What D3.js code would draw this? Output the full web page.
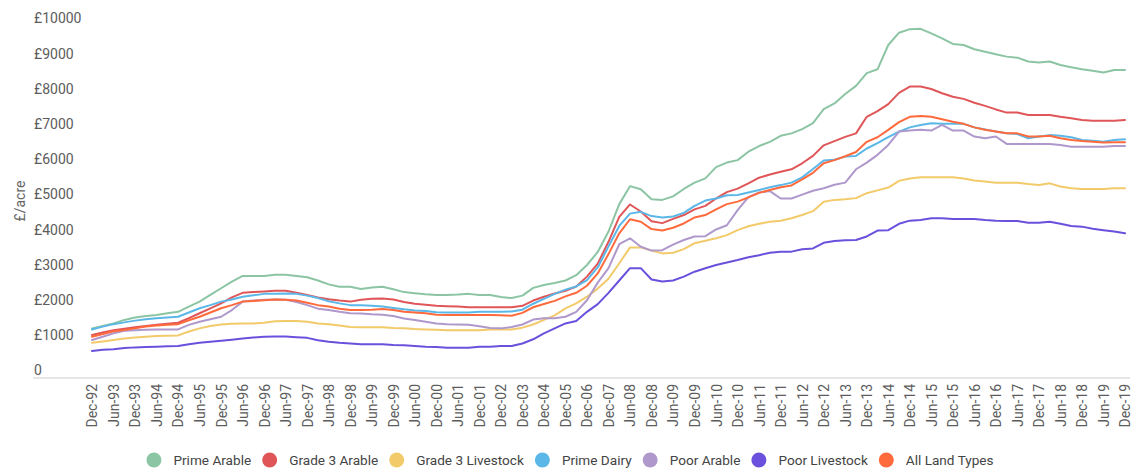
<!DOCTYPE html>
<html>
<head>
<meta charset="utf-8">
<script src="https://cdn.jsdelivr.net/npm/d3@7"></script>
<style>
  html, body { margin: 0; padding: 0; background: #fff; }
  svg { display: block; font-family: Roboto, "Noto Sans", sans-serif; }
</style>
</head>
<body>
<svg id="chart" width="1140" height="471"></svg>
<script>
// Quarterly survey points (half-yearly 2002-2007)
const categories = [
  "Dec-92","Mar-93","Jun-93","Sep-93","Dec-93","Mar-94","Jun-94","Sep-94","Dec-94","Mar-95",
  "Jun-95","Sep-95","Dec-95","Mar-96","Jun-96","Sep-96","Dec-96","Mar-97","Jun-97","Sep-97",
  "Dec-97","Mar-98","Jun-98","Sep-98","Dec-98","Mar-99","Jun-99","Sep-99","Dec-99","Mar-00",
  "Jun-00","Sep-00","Dec-00","Mar-01","Jun-01","Sep-01","Dec-01","Jun-02","Dec-02","Jun-03",
  "Dec-03","Jun-04","Dec-04","Jun-05","Dec-05","Jun-06","Dec-06","Jun-07","Dec-07","Mar-08",
  "Jun-08","Sep-08","Dec-08","Mar-09","Jun-09","Sep-09","Dec-09","Mar-10","Jun-10","Sep-10",
  "Dec-10","Mar-11","Jun-11","Sep-11","Dec-11","Mar-12","Jun-12","Sep-12","Dec-12","Mar-13",
  "Jun-13","Sep-13","Dec-13","Mar-14","Jun-14","Sep-14","Dec-14","Mar-15","Jun-15","Sep-15",
  "Dec-15","Mar-16","Jun-16","Sep-16","Dec-16","Mar-17","Jun-17","Sep-17","Dec-17","Mar-18",
  "Jun-18","Sep-18","Dec-18","Mar-19","Jun-19","Sep-19","Dec-19"
];

// Labels printed along the x axis
const tickLabels = [
  "Dec-92","Jun-93","Dec-93","Jun-94","Dec-94","Jun-95","Dec-95","Jun-96","Dec-96","Jun-97",
  "Dec-97","Jun-98","Dec-98","Jun-99","Dec-99","Jun-00","Dec-00","Jun-01","Dec-01","Dec-02",
  "Dec-03","Dec-04","Dec-05","Dec-06","Dec-07","Jun-08","Dec-08","Jun-09","Dec-09","Jun-10",
  "Dec-10","Jun-11","Dec-11","Jun-12","Dec-12","Jun-13","Dec-13","Jun-14","Dec-14","Jun-15",
  "Dec-15","Jun-16","Dec-16","Jun-17","Dec-17","Jun-18","Dec-18","Jun-19","Dec-19"
];

const yTicks = [0,1000,2000,3000,4000,5000,6000,7000,8000,9000,10000];
const yTickLabels = ["0","£1000","£2000","£3000","£4000","£5000","£6000","£7000","£8000","£9000","£10000"];

// £ per acre
const primeArable = [
  1410,1480,1550,1650,1720,1760,1790,1840,1880,2030,
  2170,2360,2550,2740,2900,2900,2900,2930,2930,2900,
  2860,2770,2660,2590,2590,2530,2570,2590,2520,2440,
  2410,2380,2360,2360,2370,2390,2360,2360,2300,2270,
  2340,2560,2640,2700,2770,2920,3210,3580,4160,4940,
  5450,5360,5080,5060,5160,5370,5550,5670,5990,6120,
  6190,6430,6590,6710,6880,6950,7070,7240,7640,7800,
  8070,8300,8660,8770,9460,9810,9910,9920,9790,9650,
  9490,9460,9340,9270,9200,9130,9100,8990,8960,8990,
  8890,8830,8770,8730,8680,8750,8750
];
const grade3Arable = [
  1220,1290,1360,1400,1440,1480,1510,1540,1570,1700,
  1840,1980,2120,2290,2420,2440,2460,2480,2480,2420,
  2360,2290,2240,2200,2170,2220,2250,2260,2230,2160,
  2110,2080,2050,2040,2030,2010,2010,2010,2010,2010,
  2050,2200,2310,2400,2480,2600,2880,3250,3870,4580,
  4930,4730,4450,4400,4520,4630,4790,4890,5100,5280,
  5380,5530,5690,5780,5860,5930,6100,6310,6610,6730,
  6850,6950,7420,7580,7780,8100,8280,8280,8210,8090,
  7990,7930,7820,7730,7630,7540,7540,7470,7470,7470,
  7420,7380,7330,7310,7310,7310,7330
];
const grade3Livestock = [
  1000,1040,1080,1120,1150,1170,1190,1200,1210,1320,
  1410,1480,1520,1540,1550,1550,1570,1610,1620,1620,
  1600,1550,1530,1490,1450,1440,1440,1440,1420,1410,
  1390,1380,1370,1360,1360,1360,1360,1380,1380,1380,
  1430,1520,1650,1780,1980,2120,2310,2540,2820,3260,
  3710,3710,3620,3540,3560,3660,3830,3900,3970,4060,
  4200,4310,4380,4440,4470,4540,4630,4740,5010,5060,
  5080,5110,5250,5330,5410,5600,5670,5700,5700,5700,
  5700,5670,5610,5580,5550,5550,5550,5510,5480,5530,
  5440,5390,5370,5370,5370,5390,5390
];
const primeDairy = [
  1380,1460,1530,1580,1630,1670,1700,1720,1740,1860,
  1980,2070,2170,2230,2310,2350,2390,2390,2400,2390,
  2340,2270,2180,2120,2070,2070,2050,2030,1990,1950,
  1920,1900,1870,1860,1860,1860,1880,1880,1880,1890,
  1940,2110,2250,2390,2510,2600,2780,3140,3740,4320,
  4670,4720,4600,4560,4590,4690,4890,5040,5100,5190,
  5200,5270,5340,5420,5480,5550,5700,5940,6180,6200,
  6290,6310,6520,6670,6840,7000,7120,7190,7240,7220,
  7220,7220,7120,7060,7000,6950,6930,6810,6860,6900,
  6880,6840,6760,6740,6710,6760,6780
];
const poorArable = [
  1080,1170,1270,1340,1360,1370,1380,1380,1380,1510,
  1600,1670,1740,1930,2170,2200,2220,2230,2220,2160,
  2070,1970,1930,1880,1840,1830,1810,1800,1760,1690,
  1650,1600,1550,1530,1520,1510,1470,1420,1410,1450,
  1520,1660,1700,1700,1740,1880,2210,2710,3120,3800,
  3970,3730,3620,3630,3790,3920,4020,4030,4220,4340,
  4770,5140,5270,5310,5100,5100,5210,5320,5390,5490,
  5550,5930,6120,6340,6620,7000,7030,7050,7030,7190,
  7030,7030,6860,6810,6860,6650,6650,6650,6650,6650,
  6620,6570,6570,6570,6570,6590,6590
];
const poorLivestock = [
  770,800,820,850,870,880,890,900,910,960,
  1000,1030,1060,1090,1120,1150,1170,1180,1180,1160,
  1140,1070,1030,1000,980,960,960,960,940,930,
  910,890,880,860,860,860,890,890,910,910,
  980,1100,1270,1410,1550,1620,1880,2100,2420,2770,
  3120,3120,2800,2740,2770,2880,3020,3120,3210,3280,
  3350,3430,3490,3560,3590,3590,3660,3680,3840,3890,
  3910,3920,4020,4190,4200,4380,4470,4490,4540,4540,
  4520,4520,4520,4490,4470,4460,4460,4410,4410,4440,
  4380,4320,4300,4240,4200,4160,4110
];
const allLandTypes = [
  1170,1250,1330,1360,1410,1460,1490,1510,1530,1640,
  1740,1860,1980,2070,2170,2190,2210,2230,2220,2200,
  2140,2070,2030,1970,1930,1930,1940,1960,1930,1880,
  1860,1840,1800,1790,1790,1790,1790,1790,1780,1770,
  1850,2010,2100,2190,2320,2420,2620,2970,3520,4110,
  4510,4440,4230,4190,4270,4390,4560,4630,4790,4940,
  5010,5130,5260,5340,5420,5470,5640,5830,6100,6190,
  6300,6420,6710,6840,7050,7270,7420,7440,7420,7350,
  7280,7220,7120,7050,7000,6950,6950,6860,6860,6880,
  6810,6760,6730,6710,6690,6700,6700
];

const seriesNames = ["Prime Arable","Grade 3 Arable","Grade 3 Livestock","Prime Dairy","Poor Arable","Poor Livestock","All Land Types"];
const seriesValues = [primeArable, grade3Arable, grade3Livestock, primeDairy, poorArable, poorLivestock, allLandTypes];
const seriesColors = ["#8cc5a3","#e05658","#f2ca6a","#5bb7e7","#af98cc","#6a50dc","#ff6a3c"];

const series = seriesNames.map((name, k) => ({ name, values: seriesValues[k], color: seriesColors[k] }));

const svg = d3.select("#chart");
const x = d3.scalePoint().domain(categories).range([92, 1125]);
const y = d3.scaleLinear().domain([0, 10000]).range([378, 26]);

// baseline
svg.append("line")
  .attr("x1", 33).attr("x2", 1130)
  .attr("y1", y(0)).attr("y2", y(0))
  .attr("stroke", "#e6e6e6").attr("stroke-width", 2);

// y axis: left-aligned labels sitting just above their value
const yAxis = svg.append("g")
  .attr("transform", "translate(34,0)")
  .call(d3.axisLeft(y).tickValues(yTicks).tickFormat((d, i) => yTickLabels[i]).tickSize(0));
yAxis.select(".domain").remove();
yAxis.attr("font-family", null).attr("font-size", null);
yAxis.selectAll("text")
  .attr("x", 0).attr("y", -8).attr("dy", "0.35em")
  .attr("text-anchor", "start")
  .attr("fill", "#5c5c5c")
  .style("font-size", "14px");

// y title
svg.append("text")
  .attr("transform", "translate(20,201) rotate(-90)")
  .attr("text-anchor", "middle").attr("dy", "0.35em")
  .attr("fill", "#666").style("font-size", "14px")
  .text("£/acre");

// x axis with vertical labels
const xAxis = svg.append("g")
  .attr("transform", "translate(0,384)")
  .call(d3.axisBottom(x).tickValues(tickLabels).tickSize(0));
xAxis.select(".domain").remove();
xAxis.attr("font-family", null).attr("font-size", null);
xAxis.selectAll("text")
  .attr("x", 0).attr("y", 0).attr("dy", "0.35em")
  .attr("transform", "rotate(-90)")
  .attr("text-anchor", "end")
  .attr("fill", "#5c5c5c")
  .style("font-size", "14px");

// lines
const line = d3.line()
  .x((d, i) => x(categories[i]))
  .y(d => y(d));

svg.append("g").selectAll("path")
  .data(series)
  .join("path")
  .attr("d", s => line(s.values))
  .attr("fill", "none")
  .attr("stroke", s => s.color)
  .attr("stroke-width", 2)
  .attr("stroke-linejoin", "round")
  .attr("stroke-linecap", "round");

// legend
const legend = svg.append("g").attr("transform", "translate(0,460)");
const items = legend.selectAll("g").data(series).join("g");
items.append("circle").attr("r", 7.5).attr("fill", s => s.color);
items.append("text")
  .attr("x", 19.5).attr("dy", "0.35em")
  .attr("fill", "#444").style("font-size", "13.6px")
  .text(s => s.name);
const widths = [];
items.select("text").each(function () { widths.push(this.getComputedTextLength()); });
const itemW = widths.map(w => 19.5 + w + 18.5);
const total = d3.sum(itemW) - 18.5 + 7.5;
let cx = 570 - total / 2 + 7.5;
items.each(function (s, i) {
  d3.select(this).attr("transform", `translate(${cx},0)`);
  cx += itemW[i];
});
</script>
</body>
</html>
